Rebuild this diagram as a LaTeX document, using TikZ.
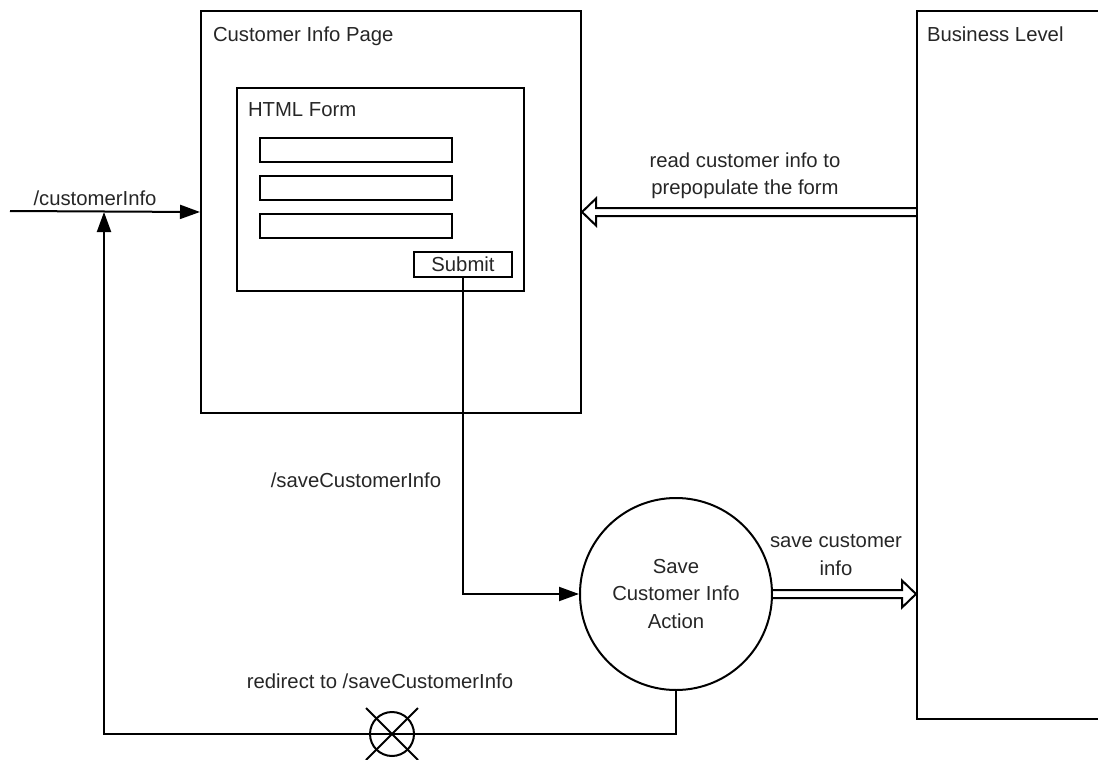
\documentclass[tikz,border=0pt]{standalone}
\usepackage{fontspec}
\setmainfont{Liberation Sans}
\usetikzlibrary{arrows.meta, positioning, calc, shapes.misc}

% hollow double-line arrow, horizontal: #1 tail, #2 tip
\newcommand{\hollowarrow}[2]{%
  \draw[line join=miter] let \p1=(#1), \p2=(#2), \n1={ifthenelse(\x1>\x2,14pt,-14pt)} in
    (\x1,\y1+4pt) -- (\x2+\n1,\y1+4pt) -- (\x2+\n1,\y1+13.5pt) -- (\x2,\y2)
    -- (\x2+\n1,\y1-13.5pt) -- (\x2+\n1,\y1-4pt) -- (\x1,\y1-4pt);}

\begin{document}
\begin{tikzpicture}[x=1pt, y=-1pt, line width=2pt, >={Triangle[length=20pt, width=14pt]},
    every node/.style={font=\fontsize{20.3}{27.5}\selectfont, text=black!85, inner sep=0pt},
    box/.style={draw, rectangle, anchor=north west},
    field/.style={draw, rectangle, minimum width=192pt, minimum height=24pt}]
                \useasboundingbox (0,0) rectangle (1098,760);

                % Boxes
                \node[box, minimum width=380pt, minimum height=402pt] (page) at (200,10) {};
                \node[box, minimum width=287pt, minimum height=203pt] (form) at (236,87) {};
                \node[field] (name) at (356,149.5) {};
                \node[field, below=12pt of name] (mail) {};
                \node[field, below=12pt of mail] (phone) {};
                \node[draw, minimum width=98pt, minimum height=25pt] (submit) at (463,264.5) {Submit};
                \node[box, minimum width=200pt, minimum height=708pt] (biz) at (916,10) {};
                \node[draw, circle, minimum size=192pt, align=center] (act) at (676,594) {Save\\Customer Info\\Action};
                \node[draw, circle, minimum size=44pt] (redir) at (392,734) {};
                \node[draw, cross out, minimum size=50pt] (redirX) at (redir) {};

                % Titles
                \node[anchor=base west] at ($(page.north west)+(12,32)$) {Customer Info Page};
                \node[anchor=base west] at ($(form.north west)+(11,30)$) {HTML Form};
                \node[anchor=base west] at ($(biz.north west)+(10,32)$) {Business Level};

                % Edges
                \coordinate (entry) at (10,211);
                \coordinate (loop) at (104,734);
                \draw[->] (entry) -- (page.west);
                \draw[->] (submit.south) |- (act.west);
                \draw[->] (act.south) |- (loop) -- (loop |- page.west);
                \hollowarrow{biz.west |- page.east}{page.east}
                \hollowarrow{act.east}{biz.west |- act.east}

                % Edge labels
                \node[anchor=base] at (95,205) {/customerInfo};
                \node[anchor=base] at (356,487) {/saveCustomerInfo};
                \node[anchor=base] at (380,688) {redirect to /saveCustomerInfo};
                \node[align=center] at (745,176) {read customer info to\\prepopulate the form};
                \node[align=center] at (836,555) {save customer\\info};
            \end{tikzpicture}
\end{document}
